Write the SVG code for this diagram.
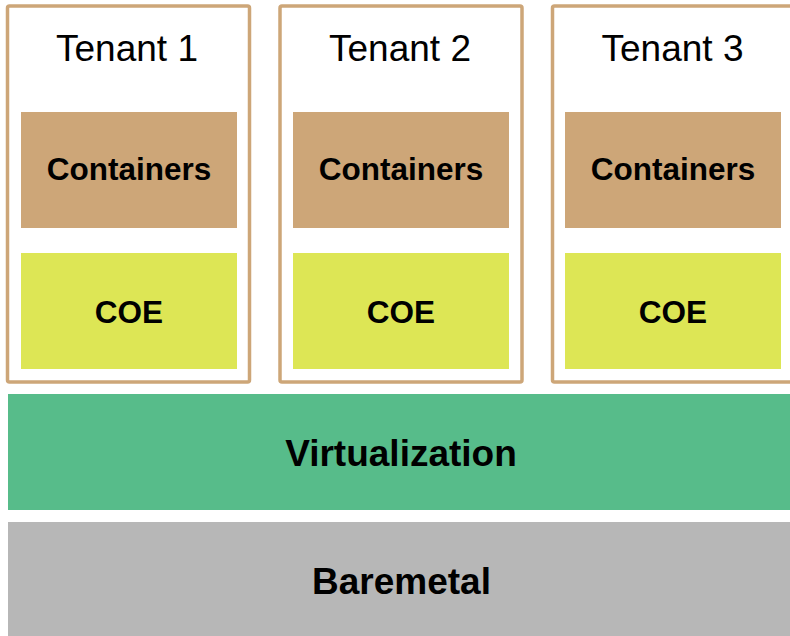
<svg xmlns="http://www.w3.org/2000/svg" width="790" height="636" viewBox="0 0 790 636">
  <style>
    .tenant { fill: #ffffff; stroke: #cda678; stroke-width: 3.5; }
    .containers { fill: #cda678; }
    .coe { fill: #dde655; }
    .virt { fill: #57bc8a; }
    .bare { fill: #b7b7b7; }
    text { font-family: "Liberation Sans", Arial, sans-serif; fill: #000; text-anchor: middle; }
    .title { font-size: 37px; }
    .lbl { font-size: 31.5px; font-weight: bold; }
    .big { font-size: 37px; font-weight: bold; }
  </style>
  <rect width="790" height="636" fill="#ffffff"/>

  <g id="tenant1">
    <rect class="tenant" x="7.5" y="6" width="242" height="376" rx="2"/>
    <text class="title" x="127" y="61">Tenant 1</text>
    <g id="tenant1-containers">
      <rect class="containers" x="21" y="112" width="216" height="116"/>
      <text class="lbl" x="129" y="180">Containers</text>
    </g>
    <g id="tenant1-coe">
      <rect class="coe" x="21" y="253" width="216" height="116"/>
      <text class="lbl" x="129" y="323">COE</text>
    </g>
  </g>

  <g id="tenant2">
    <rect class="tenant" x="280" y="6" width="242" height="376" rx="2"/>
    <text class="title" x="400" y="61">Tenant 2</text>
    <g id="tenant2-containers">
      <rect class="containers" x="293" y="112" width="216" height="116"/>
      <text class="lbl" x="401" y="180">Containers</text>
    </g>
    <g id="tenant2-coe">
      <rect class="coe" x="293" y="253" width="216" height="116"/>
      <text class="lbl" x="401" y="323">COE</text>
    </g>
  </g>

  <g id="tenant3">
    <rect class="tenant" x="552.5" y="6" width="242" height="376" rx="2"/>
    <text class="title" x="672.5" y="61">Tenant 3</text>
    <g id="tenant3-containers">
      <rect class="containers" x="565" y="112" width="216" height="116"/>
      <text class="lbl" x="673" y="180">Containers</text>
    </g>
    <g id="tenant3-coe">
      <rect class="coe" x="565" y="253" width="216" height="116"/>
      <text class="lbl" x="673" y="323">COE</text>
    </g>
  </g>

  <g id="virtualization">
    <rect class="virt" x="8" y="394" width="782" height="116"/>
    <text class="big" x="401" y="466">Virtualization</text>
  </g>

  <g id="baremetal">
    <rect class="bare" x="8" y="522" width="782" height="114"/>
    <text class="big" x="401.5" y="594">Baremetal</text>
  </g>

  <g id="connectors"/>
</svg>
